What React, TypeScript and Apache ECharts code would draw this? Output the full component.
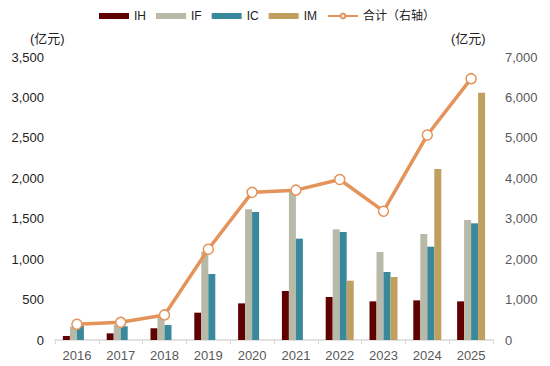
import React, { useEffect, useRef } from "react";
import * as echarts from "echarts";

const categories = ["2016", "2017", "2018", "2019", "2020", "2021", "2022", "2023", "2024", "2025"];
const ihValues = [50, 82, 145, 338, 453, 606, 532, 478, 490, 478];
const ifValues = [165, 185, 290, 1092, 1616, 1847, 1369, 1088, 1311, 1484];
const icValues = [175, 170, 185, 816, 1583, 1253, 1336, 841, 1154, 1443];
const imValues = [null, null, null, null, null, null, 734, 779, 2115, 3059];
const totalValues = [390, 437, 620, 2246, 3652, 3706, 3971, 3186, 5070, 6464];

const FONT = "'Liberation Sans', Arial, 'Noto Sans CJK SC', sans-serif";

export default function App() {
  const ref = useRef<HTMLDivElement>(null);
  useEffect(() => {
    if (!ref.current) return;
    document.body.style.margin = "0";
    const chart = echarts.init(ref.current, null, { renderer: "svg" });
    const barBase = { type: "bar", barWidth: 7, barGap: "0%", yAxisIndex: 0 };
    chart.setOption({
      animation: false,
      textStyle: { fontFamily: FONT },
      legend: {
        left: 94,
        top: 5,
        itemWidth: 30,
        itemHeight: 6,
        itemGap: 10,
        textStyle: { fontSize: 12, color: "#222", fontFamily: FONT, width: 14 },
        data: [
          { name: "IH", icon: "rect" },
          { name: "IF", icon: "rect" },
          { name: "IC", icon: "rect" },
          { name: "IM", icon: "rect" },
          { name: "合计（右轴）", textStyle: { width: 72 } },
        ],
      },
      grid: { left: 55, right: 57, top: 57, bottom: 26 },
      xAxis: {
        type: "category",
        data: categories,
        axisLine: { lineStyle: { color: "#D9D9D9", width: 1.5 } },
        axisTick: { show: true, length: 4, lineStyle: { color: "#D9D9D9" } },
        axisLabel: { fontSize: 13, color: "#595959", margin: 9, fontFamily: FONT },
      },
      yAxis: [
        {
          type: "value",
          min: 0,
          max: 3500,
          interval: 500,
          splitLine: { show: false },
          axisLine: { show: false },
          axisTick: { show: false },
          axisLabel: {
            fontSize: 13,
            color: "#222",
            margin: 11,
            fontFamily: FONT,
            formatter: (v: number) => v.toLocaleString("en-US"),
          },
        },
        {
          type: "value",
          min: 0,
          max: 7000,
          interval: 1000,
          splitLine: { show: false },
          axisLine: { show: false },
          axisTick: { show: false },
          axisLabel: {
            fontSize: 13,
            color: "#595959",
            margin: 12,
            fontFamily: FONT,
            formatter: (v: number) => v.toLocaleString("en-US"),
          },
        },
      ],
      graphic: [
        { type: "text", left: 30, top: 32, style: { text: "(亿元)", fontSize: 13, fill: "#222", fontFamily: FONT } },
        { type: "text", left: 451, top: 32, style: { text: "(亿元)", fontSize: 13, fill: "#222", fontFamily: FONT } },
      ],
      series: [
        { ...barBase, name: "IH", data: ihValues, itemStyle: { color: "#600000" } },
        { ...barBase, name: "IF", data: ifValues, itemStyle: { color: "#B9B9A8" } },
        { ...barBase, name: "IC", data: icValues, itemStyle: { color: "#3A889B" } },
        { ...barBase, name: "IM", data: imValues, itemStyle: { color: "#C0A05E" } },
        {
          type: "line",
          name: "合计（右轴）",
          yAxisIndex: 1,
          data: totalValues,
          symbol: "circle",
          symbolSize: 10,
          lineStyle: { color: "#E4935A", width: 3.5 },
          itemStyle: { color: "#FFFFFF", borderColor: "#E4935A", borderWidth: 1.5 },
          z: 5,
        },
      ],
    });
    return () => chart.dispose();
  }, []);
  return (
    <div
      ref={ref}
      style={{ position: "absolute", left: 0, top: 0, width: 550, height: 366 }}
    />
  );
}
